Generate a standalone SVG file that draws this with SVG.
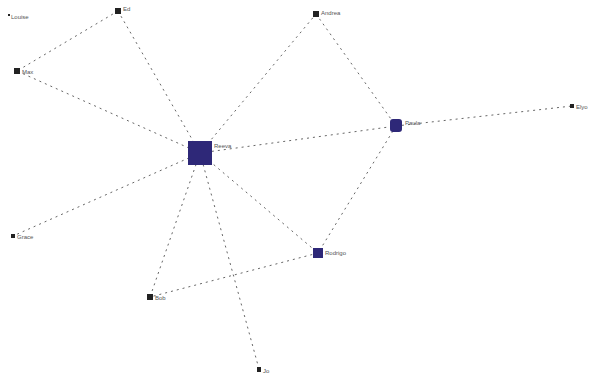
<svg xmlns="http://www.w3.org/2000/svg" width="593" height="378" viewBox="0 0 593 378">
<style>
.e{stroke:#666;stroke-width:1;stroke-dasharray:2 4;fill:none}
.n{fill:#2e2878}
.s{fill:#222}
.t{font-family:"Liberation Sans",Arial,sans-serif;font-size:6px;fill:#555}
</style>
<rect width="593" height="378" fill="#fff"/>
<g id="connectors">
<line class="e" x1="200" y1="153" x2="118" y2="11"/>
<line class="e" x1="200" y1="153" x2="17" y2="71"/>
<line class="e" x1="200" y1="153" x2="316" y2="14"/>
<line class="e" x1="200" y1="153" x2="396" y2="126"/>
<line class="e" x1="200" y1="153" x2="318" y2="253"/>
<line class="e" x1="200" y1="153" x2="13" y2="236"/>
<line class="e" x1="200" y1="153" x2="150" y2="297"/>
<line class="e" x1="200" y1="153" x2="259" y2="369"/>
<line class="e" x1="118" y1="11" x2="17" y2="71"/>
<line class="e" x1="316" y1="14" x2="396" y2="126"/>
<line class="e" x1="396" y1="126" x2="318" y2="253"/>
<line class="e" x1="396" y1="126" x2="572" y2="106"/>
<line class="e" x1="318" y1="253" x2="150" y2="297"/>
</g>
<g id="node-louise"><rect class="s" x="8" y="14" width="2" height="2"/><text class="t" x="11" y="19">Louise</text></g>
<g id="node-ed"><rect class="s" x="115" y="8" width="6" height="6"/><text class="t" x="123" y="11">Ed</text></g>
<g id="node-max"><rect class="s" x="14" y="68" width="6" height="6"/><text class="t" x="22" y="74">Max</text></g>
<g id="node-center"><rect class="n" x="188" y="141" width="24" height="24"/><text class="t" x="214" y="148">Reeva</text></g>
<g id="node-andrea"><rect class="s" x="313" y="11" width="6" height="6"/><text class="t" x="321" y="15">Andrea</text></g>
<g id="node-paula"><rect class="n" x="390" y="119" width="12" height="13" rx="3"/><text class="t" x="405" y="125">Paula</text></g>
<g id="node-elyo"><rect class="s" x="570" y="104" width="4" height="4"/><text class="t" x="576" y="109">Elyo</text></g>
<g id="node-rodrigo"><rect class="n" x="313" y="248" width="10" height="10"/><text class="t" x="325" y="255">Rodrigo</text></g>
<g id="node-grace"><rect class="s" x="11" y="234" width="4" height="4"/><text class="t" x="17" y="239">Grace</text></g>
<g id="node-bob"><rect class="s" x="147" y="294" width="6" height="6"/><text class="t" x="155" y="300">Bob</text></g>
<g id="node-jo"><rect class="s" x="257" y="367" width="4" height="5"/><text class="t" x="263" y="373">Jo</text></g>
</svg>
